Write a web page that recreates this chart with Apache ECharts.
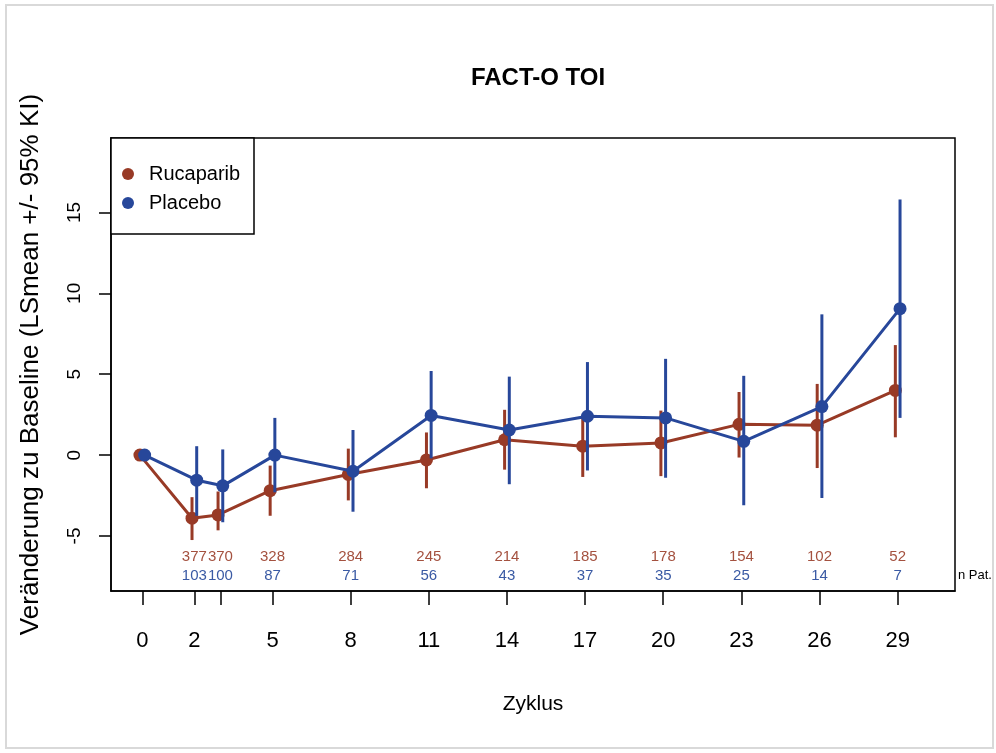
<!DOCTYPE html>
<html>
<head>
<meta charset="utf-8">
<script src="https://cdn.jsdelivr.net/npm/echarts@6/dist/echarts.min.js"></script>
<style>html,body{margin:0;padding:0;background:#fff}#c{width:996px;height:753px}</style>
</head>
<body>
<div id="c"></div>
<script>
// ---- data ----
const cycles = [0, 2, 3, 5, 8, 11, 14, 17, 20, 23, 26, 29];
const xTickValues = [0, 2, 3, 5, 8, 11, 14, 17, 20, 23, 26, 29];
const xLabelValues = [0, 2, 5, 8, 11, 14, 17, 20, 23, 26, 29];
const yTickValues = [-5, 0, 5, 10, 15];
const rucaMean = [0, -3.9, -3.7, -2.2, -1.2, -0.3, 0.95, 0.55, 0.75, 1.9, 1.85, 4.0];
const rucaLow  = [null, -5.25, -4.65, -3.75, -2.8, -2.05, -0.9, -1.35, -1.3, -0.15, -0.8, 1.1];
const rucaHigh = [null, -2.6, -2.25, -0.65, 0.4, 1.4, 2.8, 2.45, 2.75, 3.9, 4.4, 6.8];
const placMean = [0, -1.55, -1.9, 0, -1.0, 2.45, 1.55, 2.4, 2.3, 0.85, 3.0, 9.05];
const placLow  = [null, -3.75, -4.15, -2.3, -3.5, -0.2, -1.8, -0.95, -1.4, -3.1, -2.65, 2.3];
const placHigh = [null, 0.55, 0.35, 2.3, 1.55, 5.2, 4.85, 5.75, 5.95, 4.9, 8.7, 15.8];
const rucaN = [null, 377, 370, 328, 284, 245, 214, 185, 178, 154, 102, 52];
const placN = [null, 103, 100, 87, 71, 56, 43, 37, 35, 25, 14, 7];
const seriesNames = ['Rucaparib', 'Placebo'];

// ---- styles ----
const RED = '#983a26', BLUE = '#27479a';
const RED_T = '#a4513f', BLUE_T = '#3a5aa4';
const FONT = 'Liberation Sans, Arial, sans-serif';
const OFF = 0.09;
const GRID = {left: 111, right: 41, top: 138, bottom: 162};

const chart = echarts.init(document.getElementById('c'), null, {renderer: 'canvas'});

function barData(low, high, sign) {
  return cycles.map((c, i) => low[i] == null ? null : [c + sign * OFF, low[i], high[i]]).filter(d => d);
}
function lineData(mean, sign) {
  return cycles.map((c, i) => [c + sign * OFF, mean[i]]);
}
function errRender(color) {
  return function (params, api) {
    const p1 = api.coord([api.value(0), api.value(1)]);
    const p2 = api.coord([api.value(0), api.value(2)]);
    return {type: 'line', shape: {x1: p1[0], y1: p1[1], x2: p2[0], y2: p2[1]},
      style: {stroke: color, lineWidth: 3}};
  };
}
function nRender(arr, color, dyFromBottom) {
  return function (params, api) {
    const i = params.dataIndex;
    const v = arr[i];
    if (v == null) return null;
    const p = api.coord([api.value(0), 0]);
    const bottom = params.coordSys.y + params.coordSys.height;
    return {type: 'text', style: {text: String(v), x: p[0], y: bottom - dyFromBottom,
      align: 'center', verticalAlign: 'middle', fill: color, font: '15px ' + FONT}};
  };
}

const option = {
  animation: false,
  backgroundColor: '#fff',
  title: {text: 'FACT-O TOI', left: 533, top: 61, textAlign: 'center',
    textStyle: {fontFamily: FONT, fontWeight: 'bold', fontSize: 24, color: '#000'}},
  grid: {left: GRID.left, right: GRID.right, top: GRID.top, bottom: GRID.bottom,
    show: true, borderColor: '#000', borderWidth: 1.5, backgroundColor: 'transparent'},
  legend: {show: true, left: 117, top: 159, orient: 'vertical', itemGap: 9,
    data: seriesNames.map(n => ({name: n, icon: 'circle'})),
    itemWidth: 12, itemHeight: 12,
    textStyle: {fontFamily: FONT, fontSize: 20, color: '#000', padding: [0, 0, 0, 10]},
    selectedMode: false, z: 10},
  xAxis: {type: 'value', min: -1.2, max: 31.2,
    name: 'Zyklus', nameLocation: 'middle', nameGap: 103,
    nameTextStyle: {fontFamily: FONT, fontSize: 21, color: '#000'},
    axisLine: {show: true, onZero: false, lineStyle: {color: '#000', width: 1.5}},
    axisTick: {show: true, inside: false, length: 14, customValues: xTickValues,
      lineStyle: {color: '#000', width: 1.5}},
    axisLabel: {show: true, margin: 39, customValues: xLabelValues,
      fontFamily: FONT, fontSize: 22, color: '#000'},
    splitLine: {show: false}},
  yAxis: {type: 'value', min: -8.4, max: 19.6,
    name: 'Veränderung zu Baseline (LSmean +/- 95% KI)', nameLocation: 'middle', nameGap: 67,
    nameTextStyle: {fontFamily: FONT, fontSize: 26, color: '#000'},
    axisLine: {show: true, onZero: false, lineStyle: {color: '#000', width: 1.5}},
    axisTick: {show: true, inside: false, length: 12, customValues: yTickValues,
      lineStyle: {color: '#000', width: 1.5}},
    axisLabel: {show: true, rotate: 90, margin: 27, customValues: yTickValues,
      fontFamily: FONT, fontSize: 19, color: '#000'},
    splitLine: {show: false}},
  graphic: [
    {type: 'rect', shape: {x: 6, y: 5, width: 987, height: 743}, z: -10,
      style: {fill: 'none', stroke: '#d9d9d9', lineWidth: 2}},
    {type: 'rect', shape: {x: 111, y: 138, width: 143, height: 96}, z: 5,
      style: {fill: '#fff', stroke: '#000', lineWidth: 1.5}},
    {type: 'text', left: 958, top: 569, z: 10,
      style: {text: 'n Pat.', fill: '#000', font: '13px ' + FONT}}
  ],
  series: [
    {type: 'custom', name: 'rucaErr', renderItem: errRender(RED), data: barData(rucaLow, rucaHigh, -1), z: 2, silent: true},
    {type: 'line', name: 'Rucaparib', data: lineData(rucaMean, -1), z: 3, color: RED,
      lineStyle: {color: RED, width: 3}, symbol: 'circle', symbolSize: 13,
      itemStyle: {color: RED}},
    {type: 'custom', name: 'placErr', renderItem: errRender(BLUE), data: barData(placLow, placHigh, 1), z: 4, silent: true},
    {type: 'line', name: 'Placebo', data: lineData(placMean, 1), z: 5, color: BLUE,
      lineStyle: {color: BLUE, width: 3}, symbol: 'circle', symbolSize: 13,
      itemStyle: {color: BLUE}},
    {type: 'custom', name: 'rucaN', renderItem: nRender(rucaN, RED_T, 34), data: cycles.map(c => [c]), z: 6, silent: true},
    {type: 'custom', name: 'placN', renderItem: nRender(placN, BLUE_T, 15), data: cycles.map(c => [c]), z: 6, silent: true}
  ]
};
chart.setOption(option);
</script>
</body>
</html>
